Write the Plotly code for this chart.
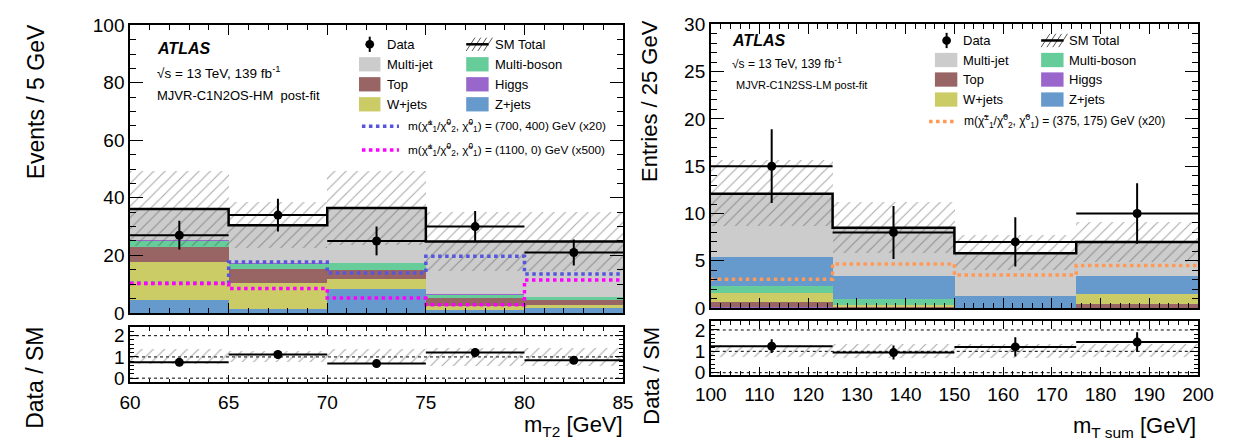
import plotly.graph_objects as go

W, H = 1253, 442
FONT = "Liberation Sans, Arial, Helvetica, sans-serif"

# ---------------- Left panel data (m_T2) ----------------
L_edges = [60, 65, 70, 75, 80, 85]
L_zjets = [4.4, 1.1, 8.3, 0.9, 1.7]
L_wjets = [13.3, 9.1, 3.5, 1.3, 1.1]
L_top = [5.0, 5.0, 3.1, 2.8, 1.6]
L_multiboson = [2.4, 1.9, 2.4, 1.3, 1.1]
L_higgs = [0.05, 0.05, 0.05, 0.05, 0.05]
L_multijet = [11.0, 13.3, 19.1, 18.5, 19.3]
L_sm_unc = [13.0, 8.0, 12.8, 10.3, 10.3]
L_data = [27, 34, 25, 30, 21]
L_data_err = [5.0, 5.7, 5.0, 5.4, 4.5]
L_sig_700_400 = [10.3, 17.7, 13.9, 19.7, 13.5]
L_sig_1100_0 = [10.2, 8.5, 5.2, 2.8, 11.4]

# ---------------- Right panel data (m_T sum) ----------------
R_edges = [100, 125, 150, 175, 200]
R_higgs = [0.1, 0.0, 0.0, 0.0]
R_top = [0.5, 0.1, 0.0, 0.43]
R_wjets = [0.95, 0.2, 0.0, 1.05]
R_multiboson = [0.75, 0.65, 0.0, 0.0]
R_zjets = [3.1, 2.45, 1.3, 1.9]
R_multijet = [6.7, 5.1, 4.5, 3.6]
R_sm_unc = [3.5, 2.7, 1.85, 2.1]
R_data = [15, 8, 7, 10]
R_data_err = [3.9, 2.8, 2.6, 3.2]
R_sig_375_175 = [3.05, 4.66, 3.49, 4.5]

COL = {
    "Multi-jet": "#cccccc",
    "Multi-boson": "#66cc99",
    "Top": "#996464",
    "Higgs": "#9966cc",
    "W+jets": "#cccc66",
    "Z+jets": "#6699cc",
}
HATCH = dict(shape="/", fgcolor="#555555", bgcolor="rgba(0,0,0,0)", size=8, solidity=0.14, fillmode="overlay")

fig = go.Figure()


def centers(edges):
    return [(edges[i] + edges[i + 1]) / 2 for i in range(len(edges) - 1)]


def widths(edges):
    return [edges[i + 1] - edges[i] for i in range(len(edges) - 1)]


def add_panel(edges, stack, sm_unc, data, data_err, signals, xa, ya, xr, yr):
    c = centers(edges)
    w = widths(edges)
    base = [0.0] * len(c)
    for name, vals in stack:
        fig.add_trace(go.Bar(x=c, y=vals, base=list(base), width=w, marker=dict(color=COL[name], line=dict(width=0)),
                             xaxis=xa, yaxis=ya, showlegend=False, hoverinfo="skip"))
        base = [b + v for b, v in zip(base, vals)]
    total = base
    # uncertainty band
    fig.add_trace(go.Bar(x=c, y=[2 * u for u in sm_unc], base=[t - u for t, u in zip(total, sm_unc)], width=w,
                         marker=dict(color="rgba(0,0,0,0)", line=dict(width=0), pattern=HATCH),
                         xaxis=xa, yaxis=ya, showlegend=False, hoverinfo="skip"))
    # signals
    for vals, color in signals:
        fig.add_trace(go.Scatter(x=edges, y=vals + [vals[-1]], mode="lines", line=dict(shape="hv", color=color, width=3.5, dash="dot"),
                                 xaxis=xa, yaxis=ya, showlegend=False, hoverinfo="skip"))
    # SM total
    fig.add_trace(go.Scatter(x=edges, y=total + [total[-1]], mode="lines", line=dict(shape="hv", color="black", width=2.5),
                             xaxis=xa, yaxis=ya, showlegend=False, hoverinfo="skip"))
    # data
    fig.add_trace(go.Scatter(x=c, y=data, mode="markers", marker=dict(color="black", size=9),
                             error_y=dict(type="data", array=data_err, color="black", thickness=2, width=0),
                             error_x=dict(type="data", array=[x / 2 for x in w], color="black", thickness=2, width=0),
                             xaxis=xa, yaxis=ya, showlegend=False, hoverinfo="skip"))
    # ratio panel
    rel = [u / t for u, t in zip(sm_unc, total)]
    fig.add_trace(go.Bar(x=c, y=[2 * r for r in rel], base=[1 - r for r in rel], width=w,
                         marker=dict(color="rgba(0,0,0,0)", line=dict(width=0), pattern=HATCH),
                         xaxis=xr, yaxis=yr, showlegend=False, hoverinfo="skip"))
    fig.add_trace(go.Scatter(x=c, y=[d / t for d, t in zip(data, total)], mode="markers", marker=dict(color="black", size=9),
                             error_y=dict(type="data", array=[e / t for e, t in zip(data_err, total)], color="black", thickness=2, width=0),
                             error_x=dict(type="data", array=[x / 2 for x in w], color="black", thickness=2, width=0),
                             xaxis=xr, yaxis=yr, showlegend=False, hoverinfo="skip"))
    for yv in [0, 1, 2]:
        fig.add_shape(type="line", xref=xr + " domain", yref=yr, x0=0, x1=1, y0=yv, y1=yv,
                      line=dict(color="black", width=1, dash="dot"), layer="below")


add_panel(L_edges,
          [("Z+jets", L_zjets), ("W+jets", L_wjets), ("Top", L_top), ("Multi-boson", L_multiboson),
           ("Higgs", L_higgs), ("Multi-jet", L_multijet)],
          L_sm_unc, L_data, L_data_err,
          [(L_sig_700_400, "#5555dd"), (L_sig_1100_0, "#ff00ff")],
          "x", "y", "x2", "y2")
add_panel(R_edges,
          [("Higgs", R_higgs), ("Top", R_top), ("W+jets", R_wjets), ("Multi-boson", R_multiboson),
           ("Z+jets", R_zjets), ("Multi-jet", R_multijet)],
          R_sm_unc, R_data, R_data_err,
          [(R_sig_375_175, "#ff9955")],
          "x3", "y3", "x4", "y4")


def px(x):
    return x / W


def py(y):
    return 1 - y / H


def axis(dom, rng, dtick, mdtick, labels, tl=12, ml=6, anchor=None, standoff=None):
    d = dict(domain=dom, range=rng, dtick=dtick, tick0=0, ticks="inside", ticklen=tl, tickwidth=1, tickcolor="black",
             showline=True, linecolor="black", linewidth=1.5, mirror="allticks", showgrid=False, zeroline=False,
             showticklabels=labels, tickfont=dict(family=FONT, size=19, color="black"),
             minor=dict(dtick=mdtick, ticks="inside", ticklen=ml, tickcolor="black", showgrid=False))
    if anchor:
        d["anchor"] = anchor
    if standoff is not None:
        d["ticklabelstandoff"] = standoff
    return d


fig.update_layout(
    width=W, height=H, margin=dict(l=0, r=0, t=0, b=0), paper_bgcolor="white", plot_bgcolor="white",
    barmode="overlay", bargap=0, showlegend=False, font=dict(family=FONT, color="black"),
    xaxis=axis([px(117), px(623)], [60, 85], 5, 1, False, 10, 5, "y"),
    yaxis=axis([py(318), py(16)], [0, 100], 20, 5, True, 13, 6, "x"),
    xaxis2=axis([px(117), px(623)], [60, 85], 5, 1, True, 8, 4, "y2", 2),
    yaxis2=axis([py(391), py(333)], [-0.2, 2.4], 1, 0.2, True, 8, 4, "x2"),
    xaxis3=axis([px(713), px(1213)], [100, 200], 10, 2, False, 10, 5, "y3"),
    yaxis3=axis([py(313), py(15)], [0, 30], 5, 1, True, 13, 6, "x3"),
    xaxis4=axis([px(713), px(1213)], [100, 200], 10, 2, True, 8, 4, "y4", 2),
    yaxis4=axis([py(383), py(327)], [-0.1, 2.4], 1, 0.2, True, 8, 4, "x4"),
)

ann = []


def text(x, y, s, size=13, xanchor="left", yanchor="middle", angle=0, bold=False, italic=False):
    ann.append(dict(x=px(x), y=py(y), xref="paper", yref="paper", text=s, showarrow=False, xanchor=xanchor,
                    yanchor=yanchor, textangle=angle,
                    font=dict(family=FONT, size=size, color="black", weight="bold" if bold else "normal",
                              style="italic" if italic else "normal")))


shapes = []


def box(x0, x1, yc, color, h=15):
    shapes.append(dict(type="rect", xref="paper", yref="paper", x0=px(x0), x1=px(x1), y0=py(yc + h / 2), y1=py(yc - h / 2),
                       fillcolor=color, line=dict(width=0)))


def data_sym(xc, yc):
    shapes.append(dict(type="line", xref="paper", yref="paper", x0=px(xc), x1=px(xc), y0=py(yc + 8), y1=py(yc - 8),
                       line=dict(color="black", width=2)))
    shapes.append(dict(type="circle", xref="paper", yref="paper", x0=px(xc - 4.5), x1=px(xc + 4.5), y0=py(yc + 4.5),
                       y1=py(yc - 4.5), fillcolor="black", line=dict(width=0)))


def sm_sym(x0, x1, yc):
    for k in range(4):
        a = x0 + k * 6
        shapes.append(dict(type="line", xref="paper", yref="paper", x0=px(a), x1=px(a + 9), y0=py(yc + 7), y1=py(yc - 7),
                           line=dict(color="#555555", width=1)))
    shapes.append(dict(type="line", xref="paper", yref="paper", x0=px(x0), x1=px(x1), y0=py(yc), y1=py(yc),
                       line=dict(color="black", width=2.5)))


def sig_sym(x0, x1, yc, color):
    shapes.append(dict(type="line", xref="paper", yref="paper", x0=px(x0), x1=px(x1), y0=py(yc), y1=py(yc),
                       line=dict(color=color, width=3.5, dash="dot")))


CHI = "m(χ\u0303<sup>±</sup><sub>1</sub>/χ\u0303<sup>0</sup><sub>2</sub>, χ\u0303<sup>0</sup><sub>1</sub>)"

# ---- left panel annotations ----
text(143, 40, "ATLAS", 16, bold=True, italic=True)
text(143, 65, "√s = 13 TeV, 139 fb<sup>-1</sup>", 13.5)
text(143, 90, "MJVR-C1N2OS-HM  post-fit", 13)
data_sym(363, 36)
text(379, 36, "Data", 13)
sm_sym(462, 485, 36)
text(490, 36, "SM Total", 13)
for (nm1, nm2), yc in zip([("Multi-jet", "Multi-boson"), ("Top", "Higgs"), ("W+jets", "Z+jets")], [57, 78, 99]):
    box(352, 374, yc, COL[nm1])
    text(379, yc, nm1, 13)
    box(462, 485, yc, COL[nm2])
    text(490, yc, nm2, 13)
sig_sym(355, 393, 122, "#5555dd")
text(400, 122, CHI + " = (700, 400) GeV (x20)", 11.8)
sig_sym(355, 393, 147, "#ff00ff")
text(400, 147, CHI + " = (1100, 0) GeV (x500)", 11.8)
text(20, 13, "Events / 5 GeV", 23, xanchor="center", yanchor="top", angle=-90)
text(20, 330, "Data / SM", 23, xanchor="center", yanchor="top", angle=-90)
text(625, 454, "m<sub>T2</sub> [GeV]", 22, xanchor="right", yanchor="bottom")

# ---- right panel annotations ----
text(733, 32, "ATLAS", 16, bold=True, italic=True)
text(733, 56, "√s = 13 TeV, 139 fb<sup>-1</sup>", 12)
text(737, 79, "MJVR-C1N2SS-LM post-fit", 11)
data_sym(955, 32)
text(970, 32, "Data", 13)
sm_sym(1052, 1075, 32)
text(1079, 32, "SM Total", 13)
for (nm1, nm2), yc in zip([("Multi-jet", "Multi-boson"), ("Top", "Higgs"), ("W+jets", "Z+jets")], [52.5, 73, 94]):
    box(943, 966, yc, COL[nm1])
    text(970, yc, nm1, 13)
    box(1052, 1075, yc, COL[nm2])
    text(1079, yc, nm2, 13)
sig_sym(937, 965, 117, "#ff9955")
text(971, 117, CHI + " = (375, 175) GeV (x20)", 12)
text(650, 8, "Entries / 25 GeV", 22, xanchor="center", yanchor="top", angle=-90)
text(652, 330, "Data / SM", 22, xanchor="center", yanchor="top", angle=-90)
text(1213, 455, "m<sub>T sum</sub> [GeV]", 22, xanchor="right", yanchor="bottom")

fig.update_layout(annotations=ann, shapes=list(fig.layout.shapes) + shapes)
fig.write_html("out.html")
